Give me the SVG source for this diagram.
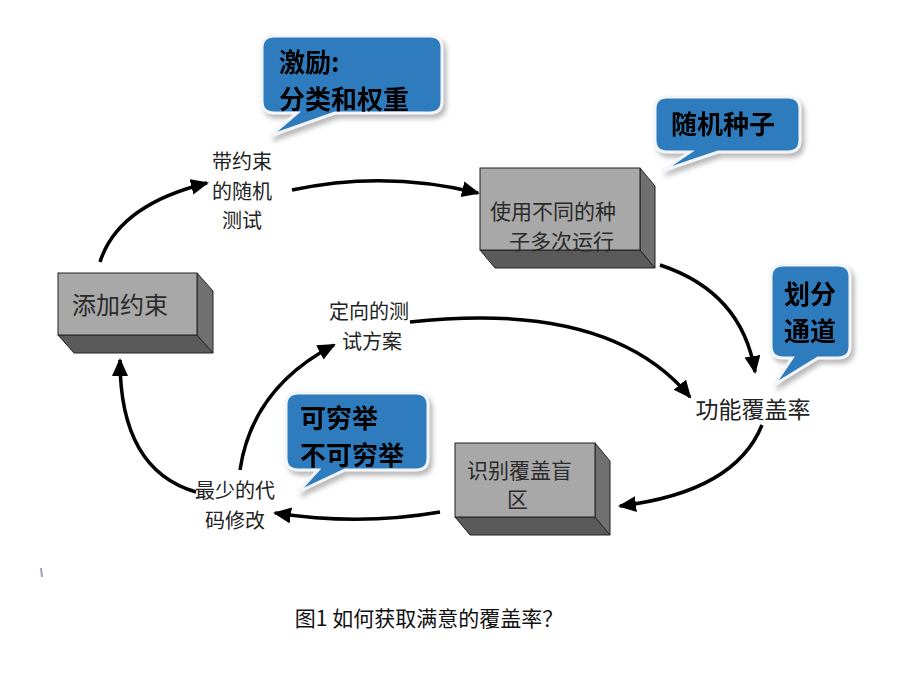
<svg xmlns="http://www.w3.org/2000/svg" width="920" height="690" viewBox="0 0 920 690">
<style>
  text { font-family: "Noto Sans CJK SC", "Noto Sans", sans-serif; fill: #222; }
  .call { fill: #2f7bbd; stroke: #f2f5f9; stroke-width: 3; }
  .ctext { font-size: 26px; font-weight: bold; fill: #000; }
  .front { fill: #a8a8a8; stroke: #222; stroke-width: 1; }
  .bottom { fill: #5a5a5a; stroke: #222; stroke-width: 1; }
  .side { fill: #707070; stroke: #222; stroke-width: 1; }
  .btext { font-size: 21px; fill: #2a2a2a; }
  .ptext { font-size: 20px; fill: #222; }
  .conn { fill: none; stroke: #000; stroke-width: 3.5; marker-end: url(#ah); }
</style>
<defs>
  <marker id="ah" markerUnits="userSpaceOnUse" markerWidth="20" markerHeight="18" refX="16" refY="8" orient="auto">
    <path d="M0,0 L18,8 L0,16 Z" fill="#000"/>
  </marker>
  <filter id="sh" x="-10%" y="-10%" width="130%" height="140%">
    <feDropShadow dx="3" dy="4" stdDeviation="2.5" flood-color="#888" flood-opacity="0.6"/>
  </filter>
</defs>
<rect width="920" height="690" fill="#fff"/>

<g id="connectors">
  <path class="conn" d="M100,262 Q118,205 207,183"/>
  <path class="conn" d="M292,190 Q385,170 478,193"/>
  <path class="conn" d="M660,265 Q742,292 755,372"/>
  <path class="conn" d="M762,425 Q735,492 620,506"/>
  <path class="conn" d="M440,512 Q360,526 275,513"/>
  <path class="conn" d="M196,492 Q120,470 120,360"/>
  <path class="conn" d="M240,470 Q252,388 334,345"/>
  <path class="conn" d="M410,322 Q610,300 690,397"/>
</g>

<g id="callout-jili" filter="url(#sh)">
  <path class="call" d="M274,36 H430 Q442,36 442,48 V101 Q442,113 430,113 H335 L270,136 L297,113 H274 Q262,113 262,101 V48 Q262,36 274,36 Z"/>
  <text class="ctext" x="279" y="72">激励:</text>
  <text class="ctext" x="279" y="109">分类和权重</text>
</g>

<g id="callout-seed" filter="url(#sh)">
  <path class="call" d="M667,97 H788 Q800,97 800,109 V140 Q800,152 788,152 H718 L662,171 L690,152 H667 Q655,152 655,140 V109 Q655,97 667,97 Z"/>
  <text class="ctext" x="671" y="134">随机种子</text>
</g>

<g id="callout-channel" filter="url(#sh)">
  <path class="call" d="M783,265 H838 Q850,265 850,277 V346 Q850,358 838,358 H818 L774,385 L792,358 H783 Q771,358 771,346 V277 Q771,265 783,265 Z"/>
  <text class="ctext" x="784" y="304">划分</text>
  <text class="ctext" x="784" y="341">通道</text>
</g>

<g id="callout-exhaust" filter="url(#sh)">
  <path class="call" d="M298,393 H416 Q428,393 428,405 V458 Q428,470 416,470 H345 L298,492 L318,470 H298 Q286,470 286,458 V405 Q286,393 298,393 Z"/>
  <text class="ctext" x="300" y="428">可穷举</text>
  <text class="ctext" x="300" y="465">不可穷举</text>
</g>

<g id="box-run">
  <polygon class="bottom" points="480,250 640,250 655,268 495,268"/>
  <polygon class="side" points="640,168 655,186 655,268 640,250"/>
  <rect class="front" x="480" y="168" width="160" height="82"/>
  <text class="btext" x="490" y="219">使用不同的种</text>
  <text class="btext" x="509" y="249">子多次运行</text>
</g>

<g id="box-constraint">
  <polygon class="bottom" points="58,335 197,335 213,353 74,353"/>
  <polygon class="side" points="197,273 213,291 213,353 197,335"/>
  <rect class="front" x="58" y="273" width="139" height="62"/>
  <text class="btext" x="72" y="314" style="font-size:24px">添加约束</text>
</g>

<g id="box-blind">
  <polygon class="bottom" points="455,517 595,517 610,535 470,535"/>
  <polygon class="side" points="595,443 610,461 610,535 595,517"/>
  <rect class="front" x="455" y="443" width="140" height="74"/>
  <text class="btext" x="467" y="478">识别覆盖盲</text>
  <text class="btext" x="507" y="507">区</text>
</g>

<g id="label-random">
  <text class="ptext" x="242" y="169" text-anchor="middle">带约束</text>
  <text class="ptext" x="242" y="199" text-anchor="middle">的随机</text>
  <text class="ptext" x="242" y="228" text-anchor="middle">测试</text>
</g>

<g id="label-directed">
  <text class="ptext" x="369" y="319" text-anchor="middle">定向的测</text>
  <text class="ptext" x="372" y="349" text-anchor="middle">试方案</text>
</g>

<g id="label-coverage">
  <text x="753" y="418" text-anchor="middle" style="font-size:23px">功能覆盖率</text>
</g>

<g id="label-mincode">
  <text class="ptext" x="235" y="498" text-anchor="middle">最少的代</text>
  <text class="ptext" x="235" y="528" text-anchor="middle">码修改</text>
</g>

<line x1="41" y1="568" x2="42" y2="577" stroke="#9aa4c0" stroke-width="2"/>

<text x="429" y="626" text-anchor="middle" style="font-size:21px;fill:#111">图1 如何获取满意的覆盖率？</text>
</svg>
